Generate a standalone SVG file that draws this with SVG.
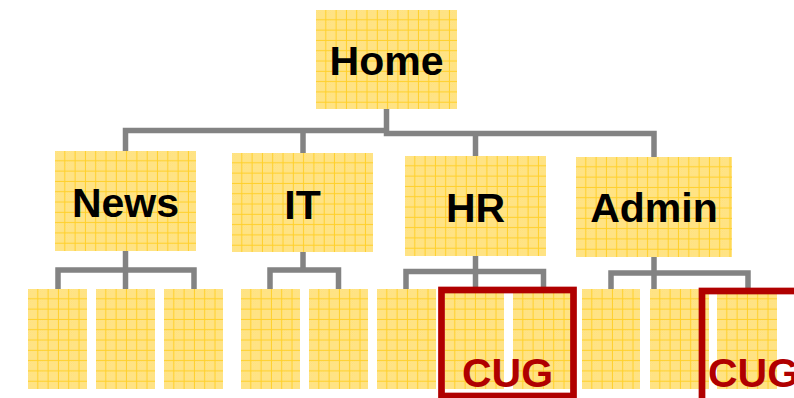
<svg xmlns="http://www.w3.org/2000/svg" width="794" height="398" viewBox="0 0 794 398">
<style>
.box{fill:url(#grid)}
.lbl{font-family:"Liberation Sans",Arial,sans-serif;font-weight:bold;font-size:41px;fill:#000;text-anchor:middle}
.cug{font-family:"Liberation Sans",Arial,sans-serif;font-weight:bold;font-size:41px;fill:#B00000}
.conn path{fill:none;stroke:#838383;stroke-width:5.5;stroke-linejoin:miter;stroke-linecap:butt}
.cugbox{fill:none;stroke:#B00000;stroke-width:6.7}
</style>
<defs>
<pattern id="checker" width="2" height="2" patternUnits="userSpaceOnUse">
<rect width="2" height="2" fill="#FFE68E"/>
<rect width="1" height="1" fill="#FFE07A"/>
<rect x="1" y="1" width="1" height="1" fill="#FFE07A"/>
</pattern>
<pattern id="grid" width="10.3" height="10.3" patternUnits="userSpaceOnUse">
<rect width="10.3" height="10.3" fill="url(#checker)"/>
<rect x="9.3" width="1" height="10.3" fill="#FFD02A"/>
<rect y="9.3" width="10.3" height="1" fill="#FFD02A"/>
</pattern>
</defs>
<rect width="794" height="398" fill="#FFFFFF"/>
<g id="connectors" class="conn">
<path d="M386.5,109 V133.5 H654 V157"/>
<path d="M386.5,130.5 H125.5 V151"/>
<path d="M303,130.5 V153"/>
<path d="M475.5,133.5 V156"/>
<path d="M125.5,251 V289"/>
<path d="M58,289 V270 H194 V289"/>
<path d="M303,252 V270"/>
<path d="M270,289 V270 H338.5 V289"/>
<path d="M475.5,256 V289"/>
<path d="M406,289 V271.5 H543.5 V289"/>
<path d="M654,257 V289"/>
<path d="M611,289 V273 H748 V289"/>
</g>
<g id="home" transform="translate(316,10)"><rect class="box" width="141" height="99"/><text class="lbl" x="70.5" y="65">Home</text></g>
<g id="news" transform="translate(55,151)"><rect class="box" width="141" height="100"/><text class="lbl" x="70.5" y="66">News</text></g>
<g id="it" transform="translate(232,153)"><rect class="box" width="141" height="99"/><text class="lbl" x="70.5" y="66">IT</text></g>
<g id="hr" transform="translate(405,156)"><rect class="box" width="141" height="100"/><text class="lbl" x="70.5" y="66">HR</text></g>
<g id="admin" transform="translate(576,157)"><rect class="box" width="156" height="100"/><text class="lbl" x="78" y="65">Admin</text></g>
<g id="news-1" transform="translate(28,289)"><rect class="box" width="59" height="100"/></g>
<g id="news-2" transform="translate(96,289)"><rect class="box" width="59" height="100"/></g>
<g id="news-3" transform="translate(164,289)"><rect class="box" width="59" height="100"/></g>
<g id="it-1" transform="translate(241,289)"><rect class="box" width="59" height="100"/></g>
<g id="it-2" transform="translate(309,289)"><rect class="box" width="59" height="100"/></g>
<g id="hr-1" transform="translate(377,289)"><rect class="box" width="59" height="100"/></g>
<g id="hr-2" transform="translate(445,289)"><rect class="box" width="59" height="100"/></g>
<g id="hr-3" transform="translate(513,289)"><rect class="box" width="59" height="100"/></g>
<g id="admin-1" transform="translate(582,289)"><rect class="box" width="58" height="100"/></g>
<g id="admin-2" transform="translate(650,289)"><rect class="box" width="59" height="100"/></g>
<g id="admin-3" transform="translate(717,289)"><rect class="box" width="60" height="100"/></g>
<g id="cug-hr"><rect class="cugbox" x="441.5" y="290" width="132" height="106"/><text class="cug" x="462" y="387">CUG</text></g>
<g id="cug-admin"><rect class="cugbox" x="702" y="291" width="200" height="200"/><text class="cug" x="708" y="387">CUG</text></g>
</svg>
